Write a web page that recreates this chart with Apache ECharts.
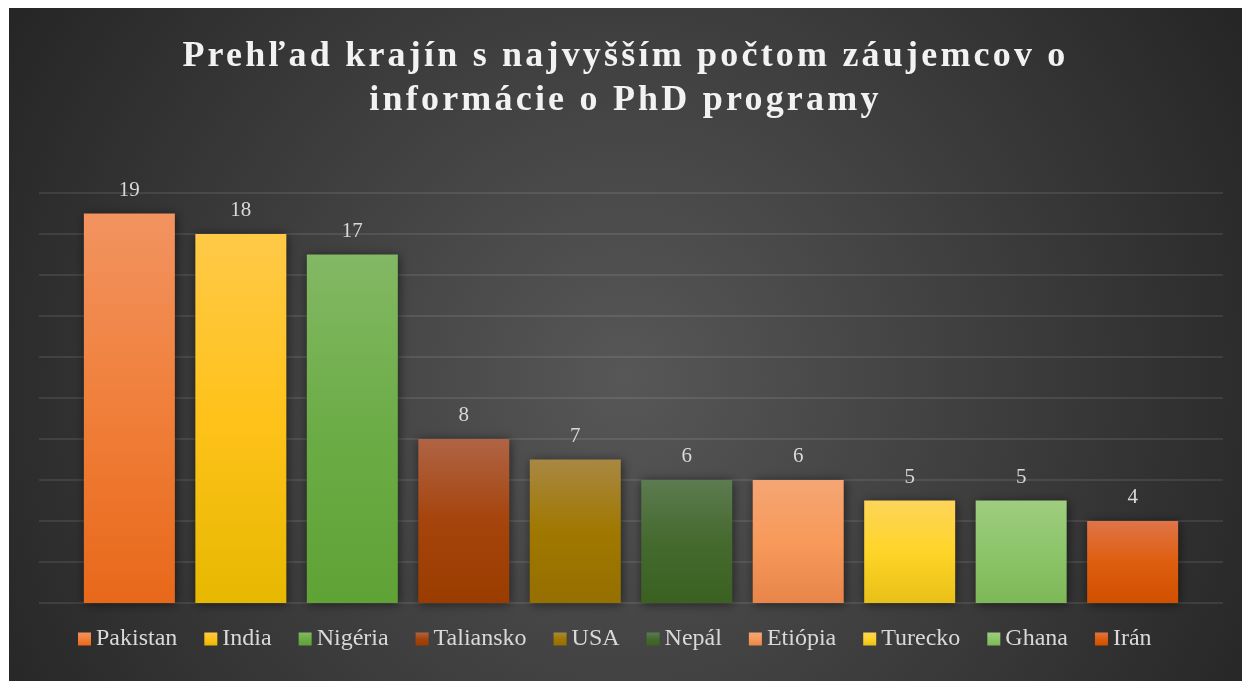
<!DOCTYPE html>
<html>
<head>
<meta charset="utf-8">
<title>Prehľad krajín</title>
<script src="https://cdn.jsdelivr.net/npm/echarts@6/dist/echarts.min.js"></script>
<style>
  body { margin: 0; background: #ffffff; }
  #main { position: absolute; left: 9px; top: 8px; width: 1233px; height: 673px; }
  #title {
    position: absolute; left: 9px; top: 32px; width: 1233px;
    text-align: center; z-index: 2; pointer-events: none;
    font-family: "Liberation Serif", serif; font-weight: bold;
    font-size: 36px; line-height: 44px; letter-spacing: 3.2px; color: #f2f2f2;
  }
</style>
</head>
<body>
<div id="main"></div>
<div id="title">Prehľad krajín s najvyšším počtom záujemcov o<br>informácie o PhD programy</div>
<script>
// krajiny a počet záujemcov
var countries = ['Pakistan', 'India', 'Nigéria', 'Taliansko', 'USA', 'Nepál', 'Etiópia', 'Turecko', 'Ghana', 'Irán'];
var counts = [19, 18, 17, 8, 7, 6, 6, 5, 5, 4];
var yTicks = { min: 0, max: 20, interval: 2 };

// farby stĺpcov (hore, stred, dole)
var barColors = [
  ['#f29360', '#f07f3a', '#e8681a'],
  ['#ffc947', '#ffc21a', '#e6b800'],
  ['#83b864', '#6cac46', '#5fa235'],
  ['#b06445', '#a5440c', '#9a3c00'],
  ['#a88843', '#a07800', '#956f00'],
  ['#5c7b50', '#456a2e', '#3b6121'],
  ['#f5a574', '#f79a5a', '#e8854a'],
  ['#fdd55a', '#ffd428', '#e8c018'],
  ['#9ecd7e', '#8cc56a', '#7db858'],
  ['#e07448', '#de5e0f', '#d05000']
];

var chart = echarts.init(document.getElementById('main'));

var series = [];
countries.forEach(function (name, i) {
  var c = barColors[i];
  series.push({
    name: name,
    type: 'bar',
    barWidth: 91,
    barGap: '22.5%',
    data: [counts[i]],
    itemStyle: {
      color: new echarts.graphic.LinearGradient(0, 0, 0, 1, [
        { offset: 0, color: c[0] },
        { offset: 0.5, color: c[1] },
        { offset: 1, color: c[2] }
      ]),
      shadowBlur: 10,
      shadowColor: 'rgba(0,0,0,0.55)',
      shadowOffsetX: 1,
      shadowOffsetY: 1
    },
    label: {
      show: true,
      position: 'top',
      distance: 13,
      color: '#d9d9d9',
      fontFamily: 'Liberation Serif',
      fontSize: 21
    }
  });
});

chart.setOption({
  animation: false,
  backgroundColor: {
    type: 'radial', x: 0.5, y: 0.55, r: 1.05,
    colorStops: [
      { offset: 0, color: '#575757' },
      { offset: 1, color: '#262626' }
    ]
  },
  legend: {
    data: countries,
    left: 69,
    top: 619,
    padding: 0,
    icon: 'rect',
    itemWidth: 13,
    itemHeight: 13,
    itemGap: 27,
    textStyle: {
      color: '#d9d9d9',
      fontFamily: 'Liberation Serif',
      fontSize: 24
    }
  },
  grid: { left: 30, right: 19, top: 185, bottom: 78 },
  xAxis: {
    type: 'category',
    data: [''],
    axisLine: { show: false },
    axisTick: { show: false },
    axisLabel: { show: false }
  },
  yAxis: {
    type: 'value',
    min: yTicks.min,
    max: yTicks.max,
    interval: yTicks.interval,
    axisLabel: { show: false },
    axisLine: { show: false },
    axisTick: { show: false },
    splitLine: { lineStyle: { color: 'rgba(255,255,255,0.09)', width: 2 } }
  },
  series: series
});
</script>
</body>
</html>
